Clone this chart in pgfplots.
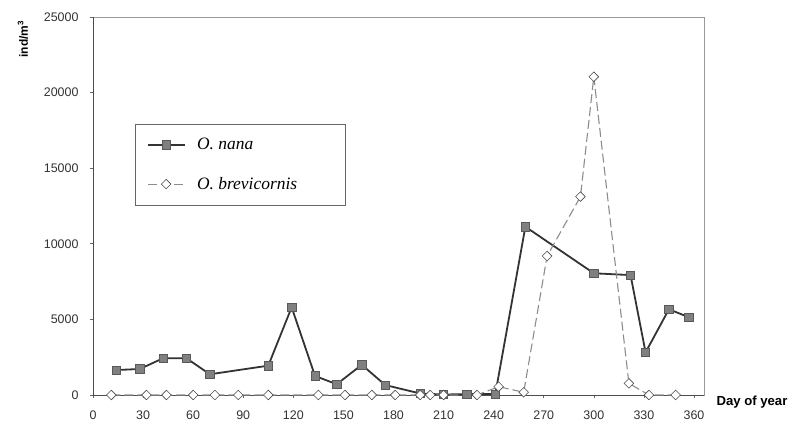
\documentclass[border=0pt]{standalone}
\usepackage{fontspec}
\setmainfont{Liberation Sans}
\newfontfamily\seriffont{Liberation Serif}
\usepackage{pgfplots}
\pgfplotsset{compat=1.18}
\begin{document}
\begin{tikzpicture}
\useasboundingbox (0,0) rectangle (790bp,421bp);
\begin{axis}[
  at={(93bp,26bp)}, anchor=south west,
  width=611bp, height=378bp, scale only axis,
  xmin=0, xmax=366, ymin=0, ymax=25000,
  xtick={0,30,...,360}, ytick={0,5000,...,25000},
  scaled ticks=false,
  /pgf/number format/1000 sep={},
  /pgf/number format/assume math mode=true,
  tick label style={font=\fontsize{12.5}{14}\selectfont, text=black!80},
  xticklabel style={yshift=-9bp},
  yticklabel style={xshift=-8bp},
  tick align=outside, major tick length=3bp,
  tick style={black!60, line width=0.6bp},
  xtick pos=bottom, ytick pos=left,
  axis line style={black!40, line width=0.8bp},
  xlabel={Day of year},
  xlabel style={at={(axis description cs:1,0)}, anchor=west, xshift=9bp, yshift=-7bp, font=\bfseries\fontsize{13.2}{15}\selectfont},
  ylabel={ind/m\textsuperscript{3}},
  ylabel style={at={(axis description cs:-0.1146,0.9418)}, anchor=center, font=\bfseries\fontsize{12}{14}\selectfont},
  legend style={at={(axis description cs:0.0687,0.717)}, anchor=north west,
    draw=black!60, fill=white, line width=0.6bp,
    font=\seriffont\itshape\fontsize{17.5}{19}\selectfont,
    row sep=22bp, inner xsep=12bp, inner ysep=12bp,
    cells={anchor=west}},
  legend image code/.code={\draw[mark repeat=2, mark phase=2] plot coordinates {(0bp,0bp)(18bp,0bp)(37bp,0bp)};},
]
\draw[black!70, line width=0.9bp] (rel axis cs:0,1) -- (rel axis cs:0,0) -- (rel axis cs:1,0);
\addplot[color=black!80, line width=1.8bp, mark=square*, mark size=4.2bp,
  mark options={fill=black!50, draw=black!65, line width=0.6bp, solid}]
  coordinates {
  (14,1650) (28,1720) (42,2430) (56,2430) (70,1370) (105,1940) (119,5800)
  (133,1260) (146,710) (161,2000) (175,660) (196,100) (210,30) (224,60)
  (241,60) (259,11130) (300,8050) (322,7930) (331,2820) (345,5670) (357,5140)
  };
\addlegendentry{\makebox[143bp][l]{\hspace*{9bp}O. nana}}
\addplot[color=black!45, line width=1.1bp, dash pattern=on 9bp off 4bp,
  mark=square*, mark size=3.4bp,
  mark options={rotate=45, fill=white, draw=black!70, solid, line width=0.6bp}]
  coordinates {
  (11,0) (32,0) (44,0) (60,0) (73,0) (87,0) (105,0) (135,0) (151,0) (167,0)
  (181,0) (196,0) (202,0) (210,0) (230,0) (243,550) (258,180) (272,9190)
  (292,13120) (300,21050) (321,770) (333,0) (349,0)
  };
\addlegendentry{\makebox[143bp][l]{\hspace*{9bp}O. brevicornis}}
\end{axis}
\end{tikzpicture}
\end{document}
